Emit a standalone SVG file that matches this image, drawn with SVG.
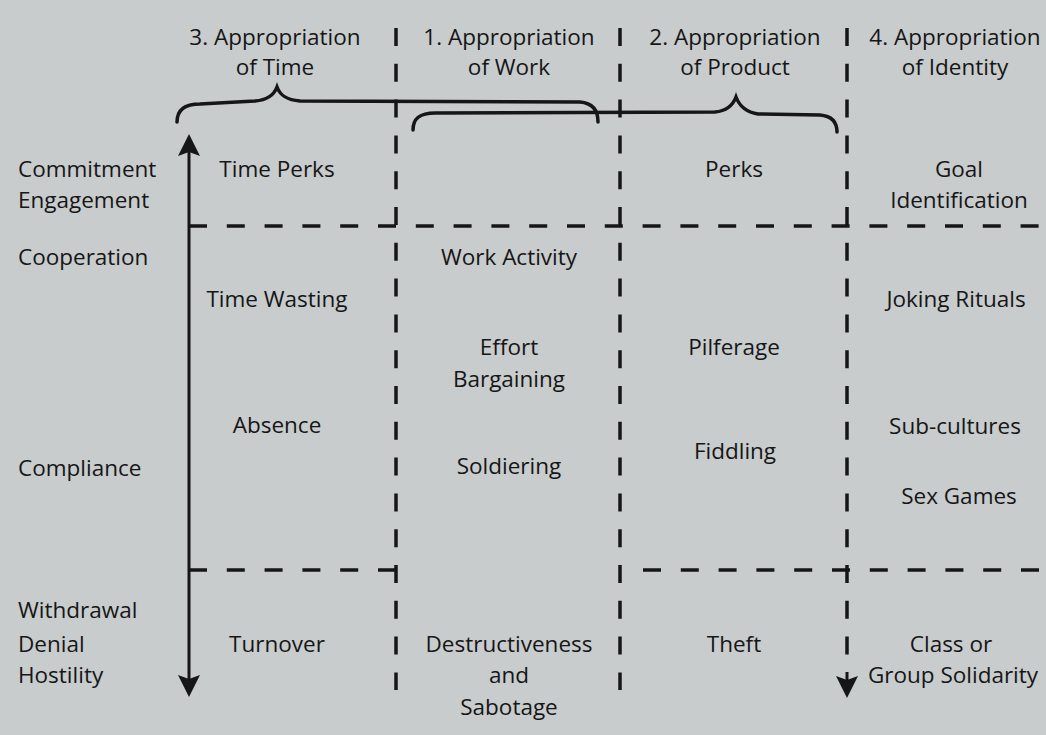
<svg xmlns="http://www.w3.org/2000/svg" width="1046" height="735" viewBox="0 0 1046 735">
<style>
text{font-family:"Open Sans","Liberation Sans",sans-serif;font-size:22.5px;fill:#161616}
.c{text-anchor:middle}
.ln{stroke:#161616;stroke-width:3;fill:none}
.vd{stroke-dasharray:18 17.8;stroke-width:3.5}
.hd{stroke-dasharray:18 19.8;stroke-width:3.5}
.br{stroke:#161616;stroke-width:3.5;fill:none;stroke-linecap:round}
</style>
<defs>
<marker id="ah" viewBox="0 0 22 22" markerWidth="22" markerHeight="22" refX="18" refY="11" orient="auto-start-reverse" markerUnits="userSpaceOnUse">
<path d="M0,0 L22,11 L0,22 L4,11 Z" fill="#161616"/>
</marker>
</defs>
<rect width="1046" height="735" fill="#c8cccd"/>
<g id="connectors">
<path class="ln vd" d="M396,28 V690"/>
<path class="ln vd" d="M620,28 V690"/>
<path class="ln vd" d="M847,28 V655"/>
<path class="ln" d="M847,672 V694" marker-end="url(#ah)"/>
<path class="ln hd" d="M189,226 H1046"/>
<path class="ln hd" d="M189,570 H397"/>
<path class="ln hd" d="M643,570 H1046"/>
<path class="ln" d="M189,138 V693" marker-start="url(#ah)" marker-end="url(#ah)"/>
<path class="br" d="M177,122 C177,109 186,104 200,104 L255,101 C268,100 274,95 277,87 C280,95 286,100 300,101 L580,102 C592,103 598,110 598,122"/>
<path class="br" d="M413,130 C413,118 420,113 435,113 L715,112 C727,111 733,105 736,97 C739,105 745,112 758,114 L820,115 C832,116 837,122 837,132"/>
</g>
<g id="h-time"><text class="c" x="275" y="45">3. Appropriation</text><text class="c" x="275" y="75">of Time</text></g>
<g id="h-work"><text class="c" x="509" y="45">1. Appropriation</text><text class="c" x="509" y="75">of Work</text></g>
<g id="h-product"><text class="c" x="735" y="45">2. Appropriation</text><text class="c" x="735" y="75">of Product</text></g>
<g id="h-identity"><text class="c" x="955" y="45">4. Appropriation</text><text class="c" x="955" y="75">of Identity</text></g>
<g id="r-commitment"><text x="18" y="177">Commitment</text><text x="18" y="208">Engagement</text></g>
<g id="r-cooperation"><text x="18" y="265">Cooperation</text></g>
<g id="r-compliance"><text x="18" y="476">Compliance</text></g>
<g id="r-withdrawal"><text x="18" y="618">Withdrawal</text></g>
<g id="r-denial"><text x="18" y="652">Denial</text><text x="18" y="683">Hostility</text></g>
<g id="time-perks"><text class="c" x="277" y="177">Time Perks</text></g>
<g id="time-wasting"><text class="c" x="277" y="307">Time Wasting</text></g>
<g id="absence"><text class="c" x="277" y="433">Absence</text></g>
<g id="turnover"><text class="c" x="277" y="652">Turnover</text></g>
<g id="work-activity"><text class="c" x="509" y="265">Work Activity</text></g>
<g id="effort-bargaining"><text class="c" x="509" y="355">Effort</text><text class="c" x="509" y="387">Bargaining</text></g>
<g id="soldiering"><text class="c" x="509" y="474">Soldiering</text></g>
<g id="destructiveness"><text class="c" x="509" y="652">Destructiveness</text><text class="c" x="509" y="683">and</text><text class="c" x="509" y="715">Sabotage</text></g>
<g id="perks"><text class="c" x="734" y="177">Perks</text></g>
<g id="pilferage"><text class="c" x="734" y="355">Pilferage</text></g>
<g id="fiddling"><text class="c" x="735" y="459">Fiddling</text></g>
<g id="theft"><text class="c" x="734" y="652">Theft</text></g>
<g id="goal-identification"><text class="c" x="959" y="177">Goal</text><text class="c" x="959" y="208">Identification</text></g>
<g id="joking-rituals"><text class="c" x="956" y="307">Joking Rituals</text></g>
<g id="sub-cultures"><text class="c" x="955" y="434">Sub-cultures</text></g>
<g id="sex-games"><text class="c" x="959" y="504">Sex Games</text></g>
<g id="class-solidarity"><text class="c" x="951" y="652">Class or</text><text class="c" x="953" y="683">Group Solidarity</text></g>
</svg>
